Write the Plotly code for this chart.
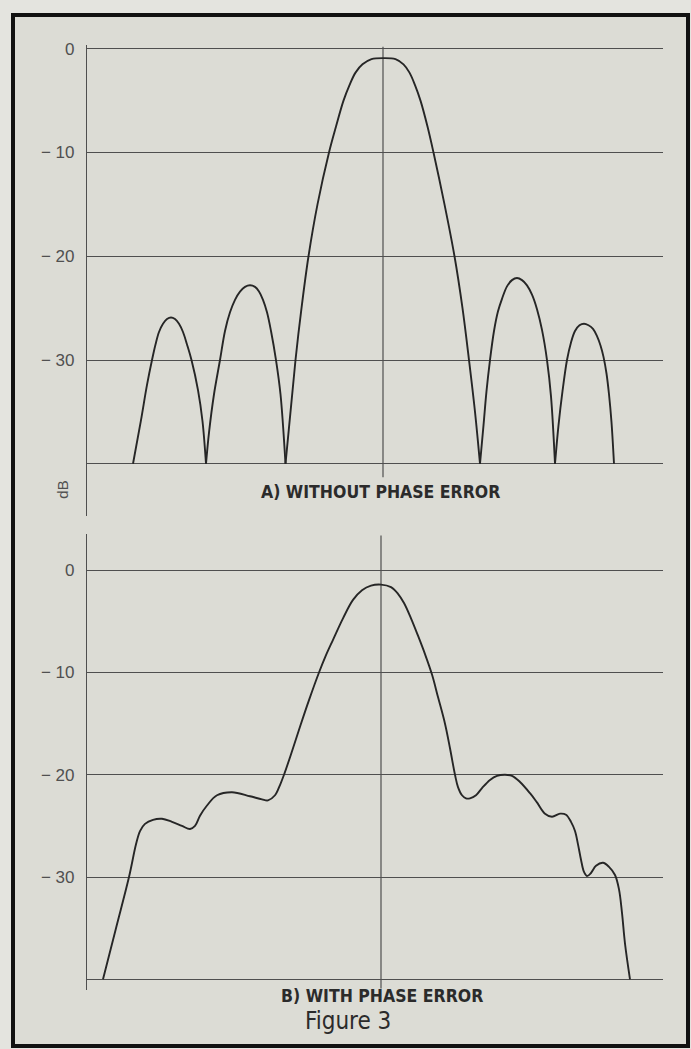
import plotly.graph_objects as go

# ---- Pattern A: without phase error (angle units, dB) ----
a_lobe1_x = [-25.0, -24.2, -23.6, -23.1, -22.75, -22.4, -22.0, -21.6, -21.2, -20.8, -20.4,
             -20.0, -19.6, -19.15, -18.5, -18.05, -17.7]
a_lobe1_y = [-40, -35.8, -32.4, -30, -28.5, -27.3, -26.5, -26.05, -25.9, -26.05, -26.5,
             -27.3, -28.5, -30, -32.9, -35.9, -40]

a_lobe2_x = [-17.7, -17.4, -16.9, -16.3, -15.8, -15.3, -14.8, -14.3, -13.8, -13.3, -12.8,
             -12.4, -12.0, -11.6, -11.2, -10.7, -10.25, -9.75]
a_lobe2_y = [-40, -37, -33.3, -30, -27.2, -25.4, -24.2, -23.4, -22.95, -22.8, -22.95,
             -23.4, -24.2, -25.4, -27.2, -30, -33.3, -40]

a_main_x = [-9.75, -9.25, -8.75, -8.15, -7.45, -6.55, -5.4, -4.7, -3.95, -3.35, -2.75, -2.05,
            -1.15, 0.05, 1.25, 2.05, 2.65, 3.2, 3.75, 4.45, 5.05, 6.15, 7.15, 7.95, 8.6,
            9.2, 9.7]
a_main_y = [-40, -35, -30, -25, -20, -15, -10, -7.5, -5, -3.5, -2.3, -1.5,
            -1.0, -0.9, -1.0, -1.5, -2.3, -3.5, -5, -7.5, -10, -15, -20, -25, -30,
            -35, -40]

a_lobe3_x = [9.7, 10.05, 10.35, 10.7, 11.1, 11.5, 11.9, 12.4, 12.9, 13.4, 13.9, 14.4, 14.9,
             15.4, 15.9, 16.4, 16.8, 17.2]
a_lobe3_y = [-40, -36.3, -33, -30, -27.2, -25.3, -24.1, -22.9, -22.3, -22.1, -22.3, -22.8,
             -23.7, -25.1, -27.1, -30, -33.5, -40]

a_lobe4_x = [17.2, 17.55, 17.95, 18.4, 18.8, 19.2, 19.65, 20.1, 20.55, 21.0, 21.4, 21.75,
             22.05, 22.35, 22.6, 22.85, 23.1]
a_lobe4_y = [-40, -36.3, -33, -30, -28.3, -27.2, -26.65, -26.5, -26.65, -27.0, -27.7, -28.6,
             -29.7, -31.3, -33.3, -36, -40]

# ---- Pattern B: with phase error ----
b_x = [-27.8, -26.5, -25.2, -24.5, -24.1, -23.6, -22.8, -21.9, -20.9, -19.9, -19.1, -18.6,
       -18.1, -17.4, -16.4, -14.9, -13.1, -11.9, -11.3, -10.6, -10.1, -9.7, -8.9, -8.1,
       -7.2, -6.2, -5.5, -4.8, -3.8, -2.8, -1.9, -1.0, 0.0, 1.0, 1.7, 2.3, 3.0, 3.7, 4.4,
       5.1, 5.7, 6.4, 6.9, 7.4, 7.7, 8.1, 8.5, 8.9, 9.5, 10.1, 10.9, 11.6, 12.4, 13.1, 13.9,
       14.9, 15.6, 16.4, 17.1, 17.9, 18.5, 19.0, 19.4, 19.7, 20.0, 20.3, 20.6, 21.0, 21.5,
       22.2, 22.8, 23.4, 23.8, 24.1, 24.4, 24.9]
b_y = [-40, -35, -30, -26.8, -25.5, -24.8, -24.4, -24.3, -24.6, -25.0, -25.3, -25.0,
       -24.0, -23.0, -22.0, -21.7, -22.1, -22.4, -22.5, -22.0, -21.0, -20.0, -17.7, -15.3,
       -12.7, -10.0, -8.3, -6.8, -4.7, -2.9, -1.95, -1.5, -1.4, -1.65, -2.3, -3.2, -4.7, -6.4,
       -8.2, -10.2, -12.4, -15.0, -17.4, -20.0, -21.2, -22.0, -22.3, -22.3, -22.0, -21.3,
       -20.5, -20.1, -20.0, -20.1, -20.7, -21.8, -22.7, -23.8, -24.1, -23.8, -23.9, -24.6,
       -25.5, -26.8, -28.3, -29.5, -29.9, -29.6, -28.9, -28.6, -29.0, -29.8, -31.2, -33.5,
       -36.5, -40]

tick_vals = [0, -10, -20, -30, -40]
tick_text = ["0", "\u2212 10", "\u2212 20", "\u2212 30", ""]

W, H = 691, 1049
BG = "#dcdcd5"
GRID = "#4f4f4f"
INK = "#262626"


def px_x(p):
    return p / W


def px_y(p):
    return 1 - p / H


def joined(segments):
    xs, ys = [], []
    for sx, sy in segments:
        xs += sx + [None]
        ys += sy + [None]
    return xs[:-1], ys[:-1]


fig = go.Figure()

ax, ay = joined([(a_lobe1_x, a_lobe1_y), (a_lobe2_x, a_lobe2_y), (a_main_x, a_main_y),
                 (a_lobe3_x, a_lobe3_y), (a_lobe4_x, a_lobe4_y)])
fig.add_trace(go.Scatter(x=ax, y=ay, mode="lines", xaxis="x", yaxis="y",
                         line=dict(color=INK, width=1.9, shape="spline", smoothing=1.0),
                         connectgaps=False, hoverinfo="skip"))
fig.add_trace(go.Scatter(x=b_x, y=b_y, mode="lines", xaxis="x2", yaxis="y2",
                         line=dict(color=INK, width=1.9, shape="spline", smoothing=1.0),
                         hoverinfo="skip"))

common_x = dict(showgrid=False, zeroline=False, showticklabels=False, showline=False,
                ticks="", fixedrange=True)
common_y = dict(showgrid=True, gridcolor=GRID, gridwidth=1.2, zeroline=False,
                showline=True, linecolor=GRID, linewidth=1.2, ticks="",
                tickvals=tick_vals, ticktext=tick_text, ticklabelstandoff=8,
                tickfont=dict(family="Liberation Sans, Arial", size=17, color="#505050"),
                fixedrange=True)

fig.update_layout(
    width=W, height=H,
    margin=dict(l=0, r=0, t=0, b=0),
    paper_bgcolor="#e4e4df",
    plot_bgcolor="rgba(0,0,0,0)",
    showlegend=False,
    xaxis=dict(domain=[px_x(87), px_x(663)], range=[-29.6, 28.0], **common_x),
    yaxis=dict(domain=[px_y(513), px_y(40)], range=[-44.99, 0.38], **common_y),
    xaxis2=dict(domain=[px_x(87), px_x(663)], range=[-29.4, 28.2], anchor="y2", **common_x),
    yaxis2=dict(domain=[px_y(990), px_y(532)], range=[-41.07, 3.5], anchor="x2", **common_y),
)

# frame
fig.add_shape(type="rect", xref="paper", yref="paper",
              x0=px_x(13), x1=px_x(688), y0=px_y(1046), y1=px_y(10),
              line=dict(color="#111111", width=4), fillcolor=BG, layer="below")

# centre lines
fig.add_shape(type="line", xref="x", yref="y", x0=0, x1=0, y0=0.2, y1=-41.3,
              line=dict(color=GRID, width=1.2), layer="below")
fig.add_shape(type="line", xref="x2", yref="y2", x0=0, x1=0, y0=3.4, y1=-40.9,
              line=dict(color=GRID, width=1.2), layer="below")

label_font = dict(family="Liberation Sans Narrow, DejaVu Sans Condensed, Arial Narrow",
                  size=17.5, color="#2b2b2b")
fig.add_annotation(xref="paper", yref="paper", x=px_x(380), y=px_y(489),
                   text="<b>A) WITHOUT PHASE ERROR</b>", showarrow=False, font=label_font,
                   xanchor="center", yanchor="middle")
fig.add_annotation(xref="paper", yref="paper", x=px_x(382), y=px_y(996),
                   text="<b>B) WITH PHASE ERROR</b>", showarrow=False, font=label_font,
                   xanchor="center", yanchor="middle")
fig.add_annotation(xref="paper", yref="paper", x=px_x(348), y=px_y(1021),
                   text="Figure 3", showarrow=False,
                   font=dict(family="Liberation Sans Narrow, DejaVu Sans Condensed, Arial Narrow",
                             size=24, color="#2b2b2b"),
                   xanchor="center", yanchor="middle")
fig.add_annotation(xref="paper", yref="paper", x=px_x(63), y=px_y(487),
                   text="dB", showarrow=False, textangle=-90,
                   font=dict(family="Liberation Sans, Arial", size=15, color="#505050"),
                   xanchor="center", yanchor="middle")

fig.write_html("out.html")
